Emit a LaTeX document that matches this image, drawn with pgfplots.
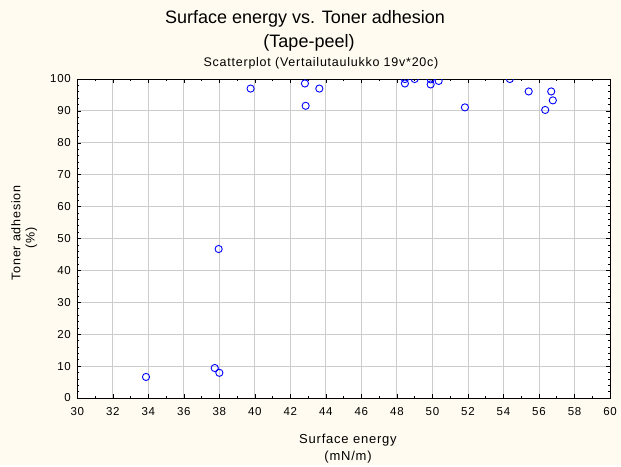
\documentclass[border=0pt]{standalone}
\usepackage{pgfplots}
\pgfplotsset{compat=1.18}
\usepackage{fontspec}
\setmainfont[LetterSpace=6]{Liberation Sans}
\newfontfamily\titlefont[LetterSpace=0]{Liberation Sans}
\definecolor{bgc}{HTML}{FFFBF0}
\definecolor{gridc}{HTML}{CCCCCC}
\definecolor{markc}{HTML}{0000FF}
\begin{document}
\begin{tikzpicture}
\fill[bgc] (-77.3pt,-67pt) rectangle (543.7pt,398pt);
\begin{axis}[
  at={(0pt,0pt)}, anchor=south west,
  scale only axis, width=532.7pt, height=319pt,
  xmin=30, xmax=60, ymin=0, ymax=100,
  xtick={30,32,...,60}, ytick={0,10,...,100},
  minor x tick num=1, minor y tick num=4,
  tick align=inside,
  major tick length=4pt, minor tick length=2pt,
  tick style={black, line width=0.6pt},
  grid=major, major grid style={gridc, line width=0.9pt},
  axis line style={black, line width=0.8pt},
  axis background/.style={fill=white},
  ticklabel style={font=\fontsize{11.5}{13}\selectfont},
  /pgf/number format/assume math mode=true,
  xticklabel style={yshift=-6pt},
  yticklabel style={xshift=-3pt},
  clip marker paths=true,
]
\addplot[only marks, mark=o, mark size=3.6pt, mark options={markc, line width=0.9pt}] coordinates {
(33.87,6.6) (37.74,9.4) (38.00,7.9) (37.96,46.7)
(39.76,97.0) (42.82,98.6) (43.63,97.0) (42.86,91.6)
(48.45,98.6) (48.45,100.0) (49.00,100.0) (49.90,98.3) (49.90,99.9) (50.35,99.4)
(51.83,91.1) (54.36,100.0) (55.42,96.1) (56.69,96.1) (56.78,93.3) (56.35,90.3)
};
\end{axis}
\node[font=\titlefont\fontsize{18}{20}\selectfont] at (227.7pt,379pt) {Surface energy vs. Toner adhesion};
\node[font=\titlefont\fontsize{18}{20}\selectfont] at (231.7pt,355pt) {(Tape-peel)};
\node[font=\fontsize{12.5}{14}\selectfont] at (243.7pt,335pt) {Scatterplot (Vertailutaulukko 19v*20c)};
\node[font=\fontsize{13}{15}\selectfont] at (270.7pt,-42pt) {Surface energy};
\node[font=\fontsize{13}{15}\selectfont] at (270.7pt,-59pt) {(mN/m)};
\node[font=\fontsize{12.5}{15}\selectfont, rotate=90] at (-61.5pt,165pt) {Toner adhesion};
\node[font=\fontsize{12.5}{15}\selectfont, rotate=90] at (-46pt,160pt) {(\%)};
\end{tikzpicture}
\end{document}
